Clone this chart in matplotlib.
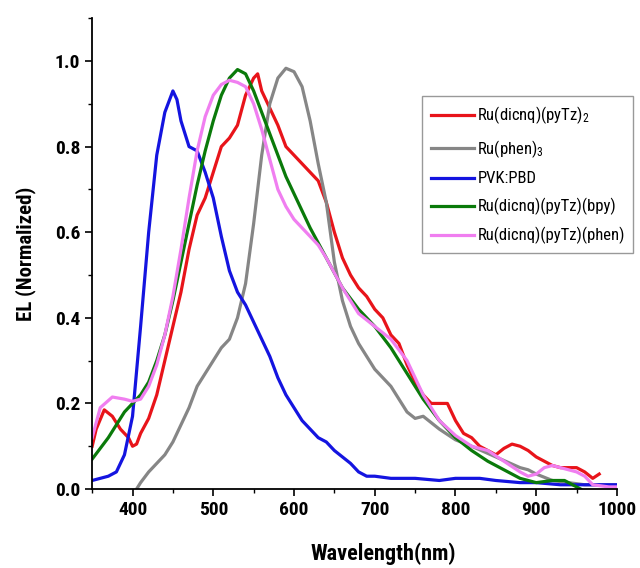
import matplotlib.pyplot as plt
from matplotlib.ticker import MultipleLocator

plt.rcParams['font.family'] = ['Roboto Condensed', 'Liberation Sans', 'DejaVu Sans']
plt.rcParams['mathtext.default'] = 'regular'

# EL spectra (wavelength in nm, normalized EL)
wl_red = [350, 355, 365, 375, 385, 395, 400, 405, 410, 420, 430, 440, 450, 460, 470, 480,
          490, 500, 510, 520, 530, 540, 550, 555, 560, 570, 580, 590, 600, 610, 620, 630,
          640, 650, 660, 670, 680, 690, 700, 710, 720, 730, 740, 750, 760, 770, 780, 790,
          800, 810, 820, 830, 850, 860, 870, 880, 890, 900, 910, 920, 930, 940, 950, 960,
          970, 978]
el_red = [0.10, 0.14, 0.185, 0.17, 0.14, 0.12, 0.10, 0.105, 0.13, 0.165, 0.22, 0.30, 0.38,
          0.46, 0.56, 0.64, 0.68, 0.74, 0.80, 0.82, 0.85, 0.92, 0.96, 0.97, 0.93, 0.89, 0.85,
          0.80, 0.78, 0.76, 0.74, 0.72, 0.67, 0.60, 0.54, 0.50, 0.47, 0.45, 0.42, 0.40, 0.36,
          0.34, 0.29, 0.25, 0.22, 0.20, 0.20, 0.20, 0.16, 0.13, 0.12, 0.10, 0.08, 0.095, 0.105,
          0.10, 0.09, 0.075, 0.065, 0.055, 0.05, 0.05, 0.05, 0.04, 0.025, 0.035]

wl_gray = [405, 410, 420, 430, 440, 450, 460, 470, 480, 490, 500, 510, 520, 530, 540, 550,
           560, 570, 580, 590, 600, 610, 620, 630, 640, 650, 660, 670, 680, 690, 700, 720,
           740, 750, 760, 780, 800, 820, 850, 880, 890, 900, 920, 940, 960, 1000]
el_gray = [0.0, 0.015, 0.04, 0.06, 0.08, 0.11, 0.15, 0.19, 0.24, 0.27, 0.30, 0.33, 0.35,
           0.40, 0.48, 0.62, 0.78, 0.90, 0.96, 0.983, 0.975, 0.94, 0.86, 0.76, 0.67, 0.53,
           0.44, 0.38, 0.34, 0.31, 0.28, 0.24, 0.18, 0.165, 0.17, 0.14, 0.115, 0.10, 0.075,
           0.05, 0.045, 0.035, 0.02, 0.015, 0.01, 0.01]

wl_blue = [350, 360, 370, 380, 390, 400, 410, 420, 430, 440, 450, 455, 460, 465, 470, 480,
           490, 500, 510, 520, 530, 540, 550, 560, 570, 580, 590, 600, 610, 620, 630, 640,
           650, 660, 670, 680, 690, 700, 720, 750, 780, 800, 830, 850, 880, 900, 930, 950,
           980, 1000]
el_blue = [0.02, 0.025, 0.03, 0.04, 0.08, 0.17, 0.38, 0.60, 0.78, 0.88, 0.93, 0.91, 0.86,
           0.83, 0.80, 0.79, 0.74, 0.68, 0.59, 0.51, 0.46, 0.43, 0.39, 0.35, 0.31, 0.26, 0.22,
           0.19, 0.16, 0.14, 0.12, 0.11, 0.09, 0.075, 0.06, 0.04, 0.03, 0.03, 0.025, 0.025,
           0.02, 0.025, 0.025, 0.02, 0.015, 0.015, 0.01, 0.01, 0.01, 0.01]

wl_green = [350, 370, 390, 400, 410, 420, 430, 440, 450, 460, 470, 480, 490, 500, 510, 520,
            530, 540, 550, 560, 570, 580, 590, 600, 620, 640, 660, 680, 700, 720, 740, 760,
            780, 800, 820, 840, 860, 880, 900, 920, 935, 950, 955]
el_green = [0.07, 0.12, 0.18, 0.20, 0.22, 0.25, 0.30, 0.36, 0.44, 0.53, 0.62, 0.71, 0.79,
            0.86, 0.92, 0.96, 0.98, 0.97, 0.93, 0.88, 0.83, 0.78, 0.73, 0.69, 0.61, 0.54,
            0.47, 0.42, 0.38, 0.33, 0.27, 0.21, 0.16, 0.12, 0.09, 0.065, 0.045, 0.025, 0.015,
            0.02, 0.02, 0.005, 0.0]

wl_pink = [350, 360, 375, 390, 400, 410, 420, 430, 440, 450, 460, 470, 480, 490, 500, 510,
           520, 530, 540, 550, 560, 570, 580, 590, 600, 620, 630, 640, 660, 680, 700, 720,
           740, 760, 780, 800, 820, 840, 860, 880, 890, 900, 910, 920, 930, 940, 950, 960,
           970, 990, 1000]
el_pink = [0.12, 0.19, 0.215, 0.21, 0.205, 0.21, 0.24, 0.29, 0.36, 0.45, 0.56, 0.68, 0.79,
           0.87, 0.92, 0.945, 0.955, 0.95, 0.94, 0.90, 0.84, 0.77, 0.70, 0.66, 0.63, 0.59,
           0.57, 0.54, 0.47, 0.41, 0.38, 0.35, 0.30, 0.22, 0.16, 0.125, 0.10, 0.09, 0.065,
           0.04, 0.03, 0.035, 0.05, 0.055, 0.05, 0.045, 0.04, 0.03, 0.01, 0.005, 0.005]

fig = plt.figure(figsize=(6.4, 5.68), dpi=100)
ax = fig.add_axes([0.144, 0.139, 0.82, 0.829])

lw = 2.3
ax.plot(wl_red, el_red, color='#e8141a', lw=lw, label=r'Ru(dicnq)(pyTz)$_2$')
ax.plot(wl_gray, el_gray, color='#868686', lw=lw, label=r'Ru(phen)$_3$')
ax.plot(wl_blue, el_blue, color='#1414e0', lw=lw, label='PVK:PBD')
ax.plot(wl_green, el_green, color='#0a7a0a', lw=lw, label='Ru(dicnq)(pyTz)(bpy)')
ax.plot(wl_pink, el_pink, color='#f07ef0', lw=lw, label='Ru(dicnq)(pyTz)(phen)')

ax.set_xlim(350, 1000)
ax.set_ylim(0, 1.1)
ax.xaxis.set_major_locator(MultipleLocator(100))
ax.xaxis.set_minor_locator(MultipleLocator(50))
ax.yaxis.set_major_locator(MultipleLocator(0.2))
ax.yaxis.set_minor_locator(MultipleLocator(0.1))
ax.yaxis.set_major_formatter(plt.FormatStrFormatter('%.1f'))

for s in ['top', 'right']:
    ax.spines[s].set_visible(False)
for s in ['left', 'bottom']:
    ax.spines[s].set_linewidth(1.3)
ax.tick_params(which='major', direction='out', length=5, width=1.2, labelsize=14)
ax.tick_params(which='minor', direction='out', length=3, width=1.0)
for t in ax.get_xticklabels() + ax.get_yticklabels():
    t.set_fontweight('bold')

ax.set_xlabel('Wavelength(nm)', fontsize=16, fontweight='bold', labelpad=17, x=0.554)
ax.set_ylabel('EL (Normalized)', fontsize=15, fontweight='bold', labelpad=14)

leg = ax.legend(loc='upper left', bbox_to_anchor=(0.629, 0.834), borderaxespad=0,
                fontsize=12, handlelength=2.6, handletextpad=0.2, borderpad=0.5,
                labelspacing=0.7, fancybox=False, edgecolor='#999999', framealpha=1)
leg.get_frame().set_linewidth(1.0)
leg.set_clip_on(False)

fig.savefig('out.png', dpi=100)
